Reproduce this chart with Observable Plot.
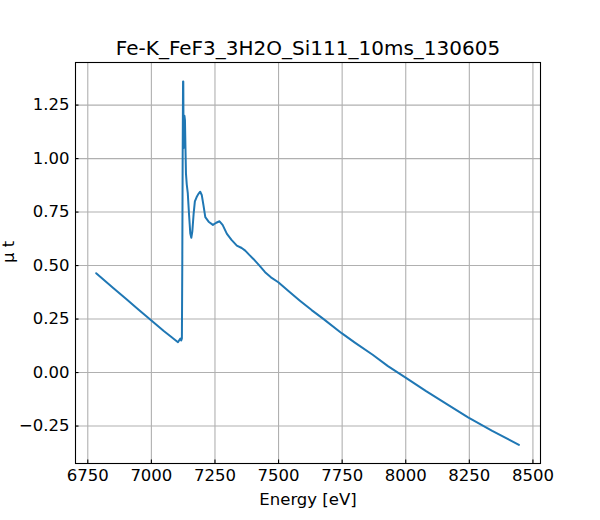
<!DOCTYPE html>
<html>
<head>
<meta charset="utf-8">
<script src="https://cdn.jsdelivr.net/npm/d3@7"></script>
<script src="https://cdn.jsdelivr.net/npm/@observablehq/plot@0.6"></script>
<style>
  html, body { margin: 0; padding: 0; background: #fff; }
  #chart svg { display: block; }
</style>
</head>
<body>
<div id="chart"></div>
<script>
const title = "Fe-K_FeF3_3H2O_Si111_10ms_130605";
const xLabel = "Energy [eV]";
const yLabel = "μ t";

const energy = [
  6783, 6850, 6900, 6950, 7000, 7050, 7080, 7104.6, 7110, 7114, 7117, 7119, 7120,
  7121.5, 7123, 7124.5, 7125.5, 7126.5, 7128, 7130, 7132, 7134, 7136, 7139, 7143,
  7148, 7153, 7157, 7161, 7166, 7171, 7178, 7185, 7192, 7198, 7205, 7212, 7225,
  7242, 7255, 7268, 7280, 7297, 7315, 7336, 7355, 7369, 7385, 7401, 7425, 7447,
  7470, 7499, 7540, 7584, 7630, 7676, 7748, 7800, 7870, 7930, 8001, 8080, 8160,
  8245, 8340, 8445
];
const mu = [
  0.464, 0.395, 0.345, 0.294, 0.243, 0.193, 0.165, 0.142, 0.152, 0.159, 0.150, 0.155, 0.16,
  0.50, 1.00, 1.36, 1.36, 1.05, 1.15, 1.20, 1.18, 1.05, 0.93, 0.88, 0.84,
  0.74, 0.65, 0.63, 0.66, 0.74, 0.80, 0.82, 0.835, 0.845, 0.83, 0.78, 0.726, 0.705,
  0.69, 0.70, 0.707, 0.69, 0.648, 0.62, 0.593, 0.582, 0.57, 0.55, 0.531, 0.50, 0.469,
  0.445, 0.422, 0.38, 0.336, 0.292, 0.251, 0.184, 0.14, 0.083, 0.03, -0.025, -0.087, -0.146,
  -0.209, -0.272, -0.338
];

const xTicks = [6750, 7000, 7250, 7500, 7750, 8000, 8250, 8500];
const yTicks = [-0.25, 0, 0.25, 0.5, 0.75, 1.0, 1.25];

const data = energy.map((e, i) => ({ e, m: mu[i] }));

const W = 600, H = 520;
const mL = 75, mR = 60, mT = 62, mB = 57;
const frameW = W - mL - mR, frameH = H - mT - mB;
const font = "DejaVu Sans, sans-serif";

const chart = Plot.plot({
  width: W,
  height: H,
  marginLeft: mL,
  marginRight: mR,
  marginTop: mT,
  marginBottom: mB,
  style: { fontFamily: font, background: "#fff", overflow: "visible" },
  x: { domain: [6701.7, 8529.8] },
  y: { domain: [-0.425, 1.449] },
  marks: [
    Plot.gridX(xTicks, { stroke: "#b0b0b0", strokeOpacity: 1, strokeWidth: 1.1 }),
    Plot.gridY(yTicks, { stroke: "#b0b0b0", strokeOpacity: 1, strokeWidth: 1.1 }),
    Plot.tickX(xTicks, { x: d => d, insetTop: frameH - 3.5, stroke: "#000", strokeWidth: 1.1 }),
    Plot.tickY(yTicks, { y: d => d, insetRight: frameW - 3.5, stroke: "#000", strokeWidth: 1.1 }),
    Plot.axisX(xTicks, { tickSize: 0, tickPadding: 6, tickFormat: d3.format("d"), fontSize: 16.5, fill: "#000", label: null }),
    Plot.axisY(yTicks, { tickSize: 0, tickPadding: 6, tickFormat: d3.format(".2f"), fontSize: 16.5, fill: "#000", label: null }),
    Plot.line(data, { x: "e", y: "m", stroke: "#1f77b4", strokeWidth: 2 }),
    Plot.frame({ stroke: "#000", strokeWidth: 1.1 }),
    Plot.text([title], { text: d => d, frameAnchor: "top", dy: -8, lineAnchor: "bottom", fontSize: 20, fill: "#000" }),
    Plot.text([xLabel], { text: d => d, frameAnchor: "bottom", dy: 41, lineAnchor: "bottom", fontSize: 16.5, fill: "#000" }),
    Plot.text([yLabel], { text: d => d, frameAnchor: "left", dx: -66.5, rotate: -90, lineAnchor: "middle", fontSize: 16.5, fill: "#000" })
  ]
});
document.getElementById("chart").appendChild(chart);
</script>
</body>
</html>
